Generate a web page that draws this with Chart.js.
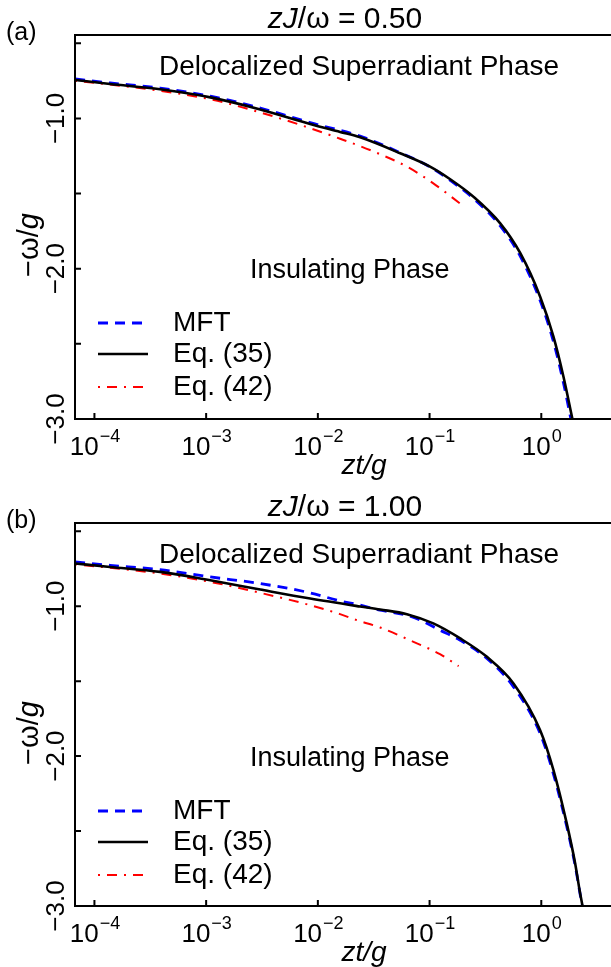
<!DOCTYPE html>
<html>
<head>
<meta charset="utf-8">
<script src="https://cdn.jsdelivr.net/npm/chart.js@4.4.1/dist/chart.umd.min.js"></script>
<style>
    html, body { margin: 0; padding: 0; background: #fff; overflow: hidden; }
    body { width: 611px; height: 967px; position: relative; }
    .panel { position: absolute; left: 0; width: 670px; height: 488px; }
    #panelA { top: 0; }
    #panelB { top: 488px; }
</style>
</head>
<body>
<div class="panel" id="panelA"><canvas id="chartA" width="670" height="488"></canvas></div>
<div class="panel" id="panelB"><canvas id="chartB" width="670" height="488"></canvas></div>
<script>
// Panel (a): zJ/omega = 0.50
const aMftT  = [6.71e-5, 1.38e-4, 3.87e-4, 1.09e-3, 3.05e-3, 8.53e-3, 0.0239, 0.0546, 0.101, 0.153, 0.247, 0.429, 0.649, 0.977, 1.285, 1.58, 1.84];
const aMftV  = [-0.737, -0.764, -0.798, -0.852, -0.931, -1.028, -1.118, -1.228, -1.323, -1.412, -1.532, -1.715, -1.918, -2.212, -2.485, -2.76, -3.0];
const aEq35T = [6.71e-5, 1.38e-4, 3.87e-4, 1.09e-3, 3.05e-3, 8.53e-3, 0.0158, 0.0239, 0.0546, 0.101, 0.153, 0.247, 0.429, 0.649, 0.977, 1.285, 1.58, 1.90];
const aEq35V = [-0.744, -0.771, -0.806, -0.860, -0.940, -1.037, -1.09, -1.126, -1.232, -1.321, -1.405, -1.521, -1.698, -1.897, -2.186, -2.452, -2.719, -3.0];
const aEq42T = [6.71e-5, 3.87e-4, 1.09e-3, 3.05e-3, 8.53e-3, 0.0158, 0.0315, 0.0627, 0.108, 0.195];
const aEq42V = [-0.749, -0.816, -0.873, -0.960, -1.065, -1.135, -1.220, -1.321, -1.432, -1.576];

// Panel (b): zJ/omega = 1.00
const bMftT  = [6.71e-5, 1.38e-4, 3.87e-4, 1.09e-3, 3.05e-3, 8.53e-3, 0.0158, 0.0239, 0.0361, 0.0627, 0.0824, 0.124, 0.188, 0.326, 0.564, 0.977, 1.285, 1.69, 2.01, 2.32];
const bMftV  = [-0.705, -0.727, -0.756, -0.805, -0.849, -0.911, -0.965, -0.993, -1.027, -1.06, -1.093, -1.16, -1.227, -1.349, -1.538, -1.849, -2.12, -2.47, -2.73, -3.0];
const bEq35T = [6.71e-5, 1.38e-4, 3.87e-4, 1.09e-3, 3.05e-3, 8.53e-3, 0.0239, 0.0361, 0.0627, 0.108, 0.188, 0.326, 0.564, 0.977, 1.285, 1.69, 2.01, 2.20, 2.34];
const bEq35V = [-0.715, -0.738, -0.771, -0.827, -0.889, -0.949, -1.002, -1.022, -1.053, -1.115, -1.215, -1.338, -1.515, -1.827, -2.093, -2.449, -2.716, -2.893, -3.0];
const bEq42T = [6.71e-5, 3.87e-4, 1.09e-3, 3.05e-3, 8.53e-3, 0.0158, 0.0223, 0.0361, 0.0718, 0.124, 0.182];
const bEq42V = [-0.72, -0.782, -0.838, -0.911, -0.993, -1.053, -1.093, -1.142, -1.238, -1.32, -1.40];

// Axes
const xTickVals = [1e-4, 1e-3, 1e-2, 1e-1, 1];
const xTickExps = ['\u22124', '\u22123', '\u22122', '\u22121', '0'];
const yTickVals = [-3.0, -2.5, -2.0, -1.5, -1.0, -0.5];
const yTickLabels = ['\u22123.0', '', '\u22122.0', '', '\u22121.0', ''];

const FONT = '"Liberation Sans", Arial, Helvetica, sans-serif';

// draws mixed italic / upright text pieces, centred or left aligned
function drawPieces(ctx, pieces, x, y, align, size) {
    let total = 0;
    pieces.forEach(p => {
        ctx.font = (p.it ? 'italic ' : '') + size + 'px ' + FONT;
        p.w = ctx.measureText(p.t).width;
        total += p.w;
    });
    let cx = align === 'center' ? x - total / 2 : x;
    ctx.textAlign = 'left';
    pieces.forEach(p => {
        ctx.font = (p.it ? 'italic ' : '') + size + 'px ' + FONT;
        ctx.fillText(p.t, cx, y);
        cx += p.w;
    });
}

const framePlugin = {
    id: 'frame',
    afterDraw(chart) {
        const ctx = chart.ctx;
        const ca = chart.chartArea;
        const xs = chart.scales.x;
        const ys = chart.scales.y;
        const opts = chart.options.plugins.frame;
        ctx.save();
        ctx.strokeStyle = '#000';
        ctx.fillStyle = '#000';
        ctx.lineWidth = 2;
        ctx.setLineDash([]);

        // box
        ctx.beginPath();
        ctx.moveTo(ca.left, ca.bottom);
        ctx.lineTo(ca.left, ca.top);
        ctx.lineTo(ca.right, ca.top);
        ctx.lineTo(ca.right, ca.bottom);
        ctx.closePath();
        ctx.stroke();

        // inward ticks
        ctx.beginPath();
        xTickVals.forEach(v => {
            const px = xs.getPixelForValue(v);
            ctx.moveTo(px, ca.bottom);
            ctx.lineTo(px, ca.bottom - 6);
        });
        yTickVals.forEach(v => {
            const py = ys.getPixelForValue(v);
            ctx.moveTo(ca.left, py);
            ctx.lineTo(ca.left + 6, py);
        });
        ctx.stroke();

        // x tick labels 10^n
        ctx.textBaseline = 'alphabetic';
        xTickVals.forEach((v, i) => {
            const px = xs.getPixelForValue(v);
            ctx.font = '26px ' + FONT;
            const wBase = ctx.measureText('10').width;
            ctx.font = '18px ' + FONT;
            const wExp = ctx.measureText(xTickExps[i]).width;
            const left = px - (wBase + wExp) / 2;
            ctx.textAlign = 'left';
            ctx.font = '26px ' + FONT;
            ctx.fillText('10', left, ca.bottom + 36);
            ctx.font = '18px ' + FONT;
            ctx.fillText(xTickExps[i], left + wBase + 1, ca.bottom + 23);
        });

        // y tick labels, rotated
        ctx.font = '26px ' + FONT;
        ctx.textAlign = 'center';
        ctx.textBaseline = 'middle';
        yTickVals.forEach((v, i) => {
            if (!yTickLabels[i]) return;
            const py = ys.getPixelForValue(v);
            ctx.save();
            ctx.translate(ca.left - 18, py);
            ctx.rotate(-Math.PI / 2);
            ctx.fillText(yTickLabels[i], 0, 0);
            ctx.restore();
        });

        // axis titles
        ctx.textBaseline = 'alphabetic';
        drawPieces(ctx, [{ t: 'zt/g', it: true }], (ca.left + ca.right) / 2, ca.bottom + 55, 'center', 28);
        ctx.save();
        ctx.translate(38, ca.top + 210);
        ctx.rotate(-Math.PI / 2);
        drawPieces(ctx, [{ t: '\u2212\u03c9/', it: false }, { t: 'g', it: true }], 0, 0, 'center', 29);
        ctx.restore();

        // panel title and tag
        drawPieces(ctx, [{ t: 'zJ', it: true }, { t: '/\u03c9 = ' + opts.coupling, it: false }], 345, ca.top - 7, 'center', 30);
        drawPieces(ctx, [{ t: opts.tag, it: false }], 6, ca.top + 5, 'left', 25);

        // region labels
        drawPieces(ctx, [{ t: 'Delocalized Superradiant Phase', it: false }], 159, ca.top + 40, 'left', 28);
        drawPieces(ctx, [{ t: 'Insulating Phase', it: false }], 250, ca.top + 243, 'left', 27);

        // legend
        const legY = [ca.top + 288, ca.top + 319, ca.top + 352];
        chart.data.datasets.forEach((ds, i) => {
            ctx.strokeStyle = ds.borderColor;
            ctx.lineWidth = ds.borderWidth;
            ctx.setLineDash(ds.borderDash || []);
            ctx.beginPath();
            ctx.moveTo(98, legY[i]);
            ctx.lineTo(148, legY[i]);
            ctx.stroke();
            ctx.setLineDash([]);
            ctx.fillStyle = '#000';
            ctx.textBaseline = 'middle';
            drawPieces(ctx, [{ t: ds.label, it: false }], 173, legY[i], 'left', 28);
        });
        ctx.restore();
    }
};

function makePanel(canvasId, tag, coupling, mftT, mftV, e35T, e35V, e42T, e42V, padBottom) {
    const pts = (xs, ys) => xs.map((x, i) => ({ x: x, y: ys[i] }));
    return new Chart(document.getElementById(canvasId), {
        type: 'line',
        data: {
            datasets: [
                { label: 'MFT', data: pts(mftT, mftV), borderColor: '#0000ff', borderWidth: 2.8, borderDash: [10, 7], order: 1 },
                { label: 'Eq. (35)', data: pts(e35T, e35V), borderColor: '#000000', borderWidth: 2.6, order: 0 },
                { label: 'Eq. (42)', data: pts(e42T, e42V), borderColor: '#ff0000', borderWidth: 2, borderDash: [2, 7, 10, 7], order: 2 }
            ]
        },
        options: {
            responsive: false,
            animation: false,
            layout: { padding: { left: 75, top: 35, right: 17, bottom: padBottom } },
            elements: {
                point: { radius: 0 },
                line: { cubicInterpolationMode: 'monotone', fill: false }
            },
            plugins: {
                legend: { display: false },
                tooltip: { enabled: false },
                frame: { tag: tag, coupling: coupling }
            },
            scales: {
                x: { type: 'logarithmic', min: 6.7e-5, max: 10, display: false },
                y: { type: 'linear', min: -3.0, max: -0.445, display: false }
            }
        },
        plugins: [framePlugin]
    });
}

makePanel('chartA', '(a)', '0.50', aMftT, aMftV, aEq35T, aEq35V, aEq42T, aEq42V, 69);
makePanel('chartB', '(b)', '1.00', bMftT, bMftV, bEq35T, bEq35V, bEq42T, bEq42V, 70);
</script>
</body>
</html>
